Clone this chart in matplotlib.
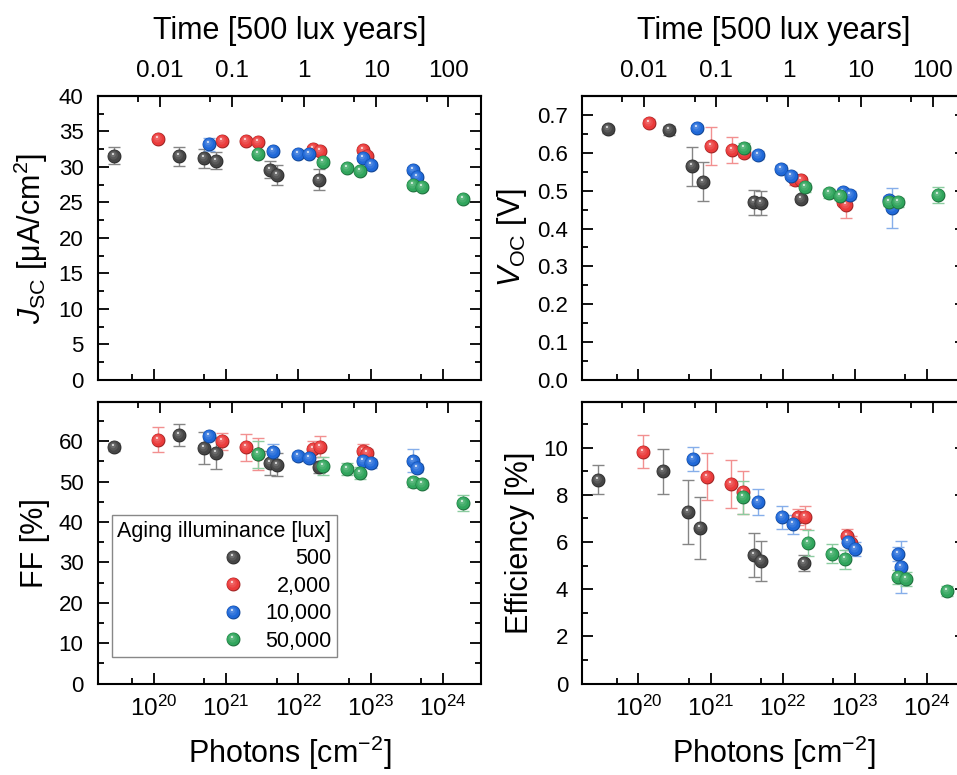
import numpy as np
import matplotlib
matplotlib.use('Agg')
import matplotlib.pyplot as plt
from matplotlib.path import Path
from matplotlib.markers import MarkerStyle
from matplotlib.ticker import MultipleLocator, FixedLocator, FixedFormatter, LogLocator, NullFormatter, FormatStrFormatter
from matplotlib.legend_handler import HandlerTuple
from matplotlib.lines import Line2D
from matplotlib.colors import to_rgb

plt.rcParams['font.family'] = ['Liberation Sans', 'DejaVu Sans']
plt.rcParams['mathtext.fontset'] = 'custom'
plt.rcParams['mathtext.rm'] = 'Liberation Sans'
plt.rcParams['mathtext.it'] = 'Liberation Sans:italic'
plt.rcParams['mathtext.bf'] = 'Liberation Sans:bold'

# ---------------- data ----------------
series_labels = ['500', '2,000', '10,000', '50,000']
legend_title = 'Aging illuminance [lux]'
colors = ['#454545', '#ea3a3a', '#1f68d8', '#30a55c']
err_colors = ['#858585', '#f29090', '#86aeea', '#8ccca0']

# photon dose [cm^-2] (x positions, Jsc / FF / Efficiency panels)
photons_500 = [2.8e19, 2.2e20, 4.9e20, 7.2e20, 4.0e21, 5.0e21, 1.95e22]
photons_2000 = [1.15e20, 8.9e20, 1.9e21, 2.8e21, 1.6e22, 2.0e22, 7.8e22, 8.9e22]
photons_10000 = [5.8e20, 4.5e21, 9.8e21, 1.4e22, 7.9e22, 1.0e23, 3.9e23, 4.4e23]
photons_50000 = [2.8e21, 2.2e22, 4.8e22, 7.2e22, 3.9e23, 5.1e23, 1.9e24]

# photon dose as plotted in the Voc panel
voc_photons_500 = [3.8e19, 2.7e20, 5.5e20, 7.9e20, 4.0e21, 5.0e21, 1.8e22]
voc_photons_2000 = [1.4e20, 1.0e21, 2.0e21, 2.95e21, 1.5e22, 1.8e22, 6.8e22, 7.6e22]
voc_photons_10000 = [6.5e20, 4.5e21, 9.3e21, 1.3e22, 6.8e22, 8.5e22, 3.0e23, 3.3e23]
voc_photons_50000 = [2.95e21, 2.0e22, 4.3e22, 6.2e22, 2.95e23, 3.9e23, 1.4e24]

# Jsc [uA/cm2]
jsc_500 = [31.6, 31.5, 31.2, 30.9, 29.6, 28.9, 28.2]
jsc_500_err = [1.2, 1.3, 1.4, 1.25, 1.2, 1.4, 1.5]
jsc_2000 = [34.0, 33.7, 33.7, 33.5, 32.6, 32.3, 32.4, 31.5]
jsc_2000_err = [0.3, 0.3, 0.3, 0.3, 0.3, 0.3, 0.3, 0.3]
jsc_10000 = [33.2, 32.2, 31.9, 31.9, 31.2, 30.3, 29.6, 28.6]
jsc_10000_err = [0.9, 0.4, 0.4, 0.4, 0.4, 0.4, 0.4, 0.4]
jsc_50000 = [31.9, 30.7, 29.8, 29.5, 27.5, 27.2, 25.5]
jsc_50000_err = [0.4, 0.4, 0.4, 0.4, 0.4, 0.4, 0.4]

# Voc [V]
voc_500 = [0.662, 0.659, 0.564, 0.524, 0.469, 0.467, 0.478]
voc_500_err = [0.010, 0.012, 0.051, 0.051, 0.033, 0.031, 0.008]
voc_2000 = [0.680, 0.618, 0.607, 0.600, 0.529, 0.527, 0.471, 0.461]
voc_2000_err = [0.008, 0.049, 0.035, 0.010, 0.015, 0.010, 0.010, 0.034]
voc_10000 = [0.666, 0.594, 0.558, 0.540, 0.496, 0.489, 0.476, 0.454]
voc_10000_err = [0.008, 0.010, 0.010, 0.010, 0.010, 0.010, 0.010, 0.053]
voc_50000 = [0.613, 0.509, 0.493, 0.487, 0.471, 0.469, 0.489]
voc_50000_err = [0.012, 0.012, 0.012, 0.012, 0.012, 0.012, 0.021]

# FF [%]
ff_500 = [58.5, 61.6, 58.3, 57.1, 54.6, 54.2, 53.7]
ff_500_err = [1.0, 2.8, 4.0, 4.0, 2.9, 2.9, 1.5]
ff_2000 = [60.4, 60.0, 58.5, 56.9, 58.1, 58.7, 57.7, 57.0]
ff_2000_err = [3.1, 2.1, 3.3, 3.9, 2.0, 2.6, 1.5, 1.2]
ff_10000 = [61.2, 57.4, 56.3, 55.8, 55.2, 54.5, 55.2, 53.4]
ff_10000_err = [1.0, 1.8, 1.0, 1.0, 1.0, 1.0, 2.9, 1.0]
ff_50000 = [56.8, 53.9, 53.1, 52.1, 49.8, 49.4, 44.7]
ff_50000_err = [3.3, 2.3, 1.5, 1.5, 1.2, 1.0, 1.9]

# Efficiency [%]
eff_500 = [8.65, 9.0, 7.28, 6.6, 5.44, 5.2, 5.12]
eff_500_err = [0.6, 0.95, 1.37, 1.32, 0.94, 0.85, 0.35]
eff_2000 = [9.83, 8.77, 8.46, 8.1, 7.07, 7.04, 6.25, 5.95]
eff_2000_err = [0.7, 1.0, 1.0, 0.9, 0.35, 0.5, 0.3, 0.3]
eff_10000 = [9.52, 7.68, 7.04, 6.76, 5.98, 5.7, 5.48, 4.95]
eff_10000_err = [0.5, 0.55, 0.5, 0.4, 0.3, 0.3, 0.3, 1.1]
eff_50000 = [7.89, 5.96, 5.51, 5.27, 4.52, 4.42, 3.93]
eff_50000_err = [0.7, 0.55, 0.4, 0.4, 0.3, 0.3, 0.2]

# axis ticks
photon_ticks = [1e20, 1e21, 1e22, 1e23, 1e24]
time_ticks = [0.01, 0.1, 1, 10, 100]
time_tick_labels = ['0.01', '0.1', '1', '10', '100']
time_minor_ticks = [0.005, 0.05, 0.5, 5, 50]
photons_per_500lux_year = 1.2e22

# ---------------- style helpers ----------------
MS = 10.0


def mix(c, other, f):
    c = np.array(to_rgb(c)); o = np.array(to_rgb(other))
    return tuple(c * (1 - f) + o * f)


def circle_marker(cx, cy, r):
    t = np.linspace(0, 2 * np.pi, 64)
    v = np.column_stack([cx + r * np.cos(t), cy + r * np.sin(t)])
    codes = [Path.MOVETO] + [Path.LINETO] * (len(t) - 2) + [Path.CLOSEPOLY]
    v = np.vstack([v, [[1.0, 1.0], [-1.0, -1.0]]])
    codes += [Path.MOVETO, Path.MOVETO]
    return MarkerStyle(Path(v, codes))


LAYER_GEOM = [(0.0, 0.0, 1.0, 'k', 0.32),
              (-0.05, 0.05, 0.9, None, 0.0),
              (-0.14, 0.17, 0.62, 'w', 0.10),
              (-0.2, 0.27, 0.38, 'w', 0.22),
              (-0.22, 0.36, 0.15, 'w', 0.85)]
LAYER_MARKERS = [circle_marker(cx, cy, r) for cx, cy, r, _, _ in LAYER_GEOM]


def layer_colors(color):
    out = []
    for _, _, _, other, f in LAYER_GEOM:
        out.append(to_rgb(color) if other is None else mix(color, other, f))
    return out


def draw_spheres(ax, xs, ys, color, z0):
    cols = layer_colors(color)
    for i, (xi, yi) in enumerate(zip(xs, ys)):
        for j, (mk, fc) in enumerate(zip(LAYER_MARKERS, cols)):
            ax.plot([xi], [yi], ls='none', marker=mk, ms=MS, mfc=fc, mec='none',
                    zorder=z0 + i * 0.01 + j * 0.001)


def sphere_handle(color):
    cols = layer_colors(color)
    return tuple(Line2D([], [], ls='none', marker=mk, ms=MS, mfc=fc, mec='none')
                 for mk, fc in zip(LAYER_MARKERS, cols))


# ---------------- figure ----------------
W, H = 957, 775
fig = plt.figure(figsize=(W / 100, H / 100), dpi=100)

axw = 383.5 / W
xl_left = 97.5 / W
xl_right = 582 / W
top_b, top_h = 1 - 380 / H, 284 / H
bot_b, bot_h = 1 - 683.5 / H, 281.8 / H

YTICK_FS = 16
XTICK_FS = 17.5
LEG_FS = 15.5
LABEL_FS = 22

panels = [
    dict(pos=[xl_left, top_b, axw, top_h], ylabel=r'$J_{\mathrm{SC}}$ [μA/cm$^{2}$]',
         ylim=(0, 40), major=5, minor=2.5, fmt='%d',
         xs=[photons_500, photons_2000, photons_10000, photons_50000],
         ys=[jsc_500, jsc_2000, jsc_10000, jsc_50000],
         es=[jsc_500_err, jsc_2000_err, jsc_10000_err, jsc_50000_err], top=True),
    dict(pos=[xl_right, top_b, axw, top_h], ylabel=r'$V_{\mathrm{OC}}$ [V]',
         ylim=(0, 0.75), major=0.1, minor=0.05, fmt='%.1f',
         xs=[voc_photons_500, voc_photons_2000, voc_photons_10000, voc_photons_50000],
         ys=[voc_500, voc_2000, voc_10000, voc_50000],
         es=[voc_500_err, voc_2000_err, voc_10000_err, voc_50000_err], top=True),
    dict(pos=[xl_left, bot_b, axw, bot_h], ylabel='FF [%]',
         ylim=(0, 69.8), major=10, minor=5, fmt='%d',
         xs=[photons_500, photons_2000, photons_10000, photons_50000],
         ys=[ff_500, ff_2000, ff_10000, ff_50000],
         es=[ff_500_err, ff_2000_err, ff_10000_err, ff_50000_err], top=False),
    dict(pos=[xl_right, bot_b, axw, bot_h], ylabel='Efficiency [%]',
         ylim=(0, 11.95), major=2, minor=1, fmt='%d',
         xs=[photons_500, photons_2000, photons_10000, photons_50000],
         ys=[eff_500, eff_2000, eff_10000, eff_50000],
         es=[eff_500_err, eff_2000_err, eff_10000_err, eff_50000_err], top=False),
]

axes = []
for p in panels:
    ax = fig.add_axes(p['pos'])
    axes.append(ax)
    ax.set_xscale('log')
    ax.set_xlim(10 ** 19.22, 10 ** 24.53)
    ax.set_ylim(*p['ylim'])
    ax.yaxis.set_major_locator(MultipleLocator(p['major']))
    ax.yaxis.set_minor_locator(MultipleLocator(p['minor']))
    ax.yaxis.set_major_formatter(FormatStrFormatter(p['fmt']))
    ax.xaxis.set_major_locator(FixedLocator(photon_ticks))
    ax.xaxis.set_minor_locator(LogLocator(base=10, subs=(5.0,), numticks=20))
    ax.xaxis.set_minor_formatter(NullFormatter())
    for s in ax.spines.values():
        s.set_linewidth(1.5)
    ax.tick_params(which='both', direction='in', top=False, right=True, width=1.3)
    ax.tick_params(axis='y', labelsize=YTICK_FS, pad=10)
    ax.tick_params(axis='x', labelsize=XTICK_FS, pad=9)
    ax.tick_params(which='major', length=8)
    ax.tick_params(which='minor', length=4.5)
    if p['top']:
        ax.tick_params(axis='x', labelbottom=False)
    else:
        ax.set_xlabel(r'Photons [cm$^{-2}$]', fontsize=LABEL_FS, labelpad=9)
    ax.set_ylabel(p['ylabel'], fontsize=LABEL_FS, labelpad=6)

    sec = ax.secondary_xaxis('top', functions=(lambda v: v / photons_per_500lux_year,
                                               lambda v: v * photons_per_500lux_year))
    sec.xaxis.set_major_locator(FixedLocator(time_ticks))
    sec.xaxis.set_major_formatter(FixedFormatter(time_tick_labels))
    sec.xaxis.set_minor_locator(FixedLocator(time_minor_ticks))
    sec.xaxis.set_minor_formatter(NullFormatter())
    sec.spines['top'].set_linewidth(1.5)
    sec.tick_params(which='both', direction='in', width=1.3, labelsize=XTICK_FS, pad=10)
    sec.tick_params(which='major', length=8)
    sec.tick_params(which='minor', length=4.5)
    if p['top']:
        sec.set_xlabel('Time [500 lux years]', fontsize=LABEL_FS, labelpad=15)
    else:
        sec.tick_params(labeltop=False)

    for k in range(4):
        ax.errorbar(p['xs'][k], p['ys'][k], yerr=p['es'][k], fmt='none',
                    ecolor=err_colors[k], elinewidth=1.0, capsize=4.5, capthick=1.0,
                    zorder=2)
    for k in range(4):
        draw_spheres(ax, p['xs'][k], p['ys'][k], colors[k], 3 + k * 0.2)

# legend in FF panel
ax_ff = axes[2]
handles = [sphere_handle(c) for c in colors]
leg = ax_ff.legend(handles, series_labels, title=legend_title,
                   handler_map={tuple: HandlerTuple(ndivide=1, pad=0)},
                   loc='lower left', bbox_to_anchor=(0.038, 0.094), borderaxespad=0,
                   fontsize=LEG_FS, title_fontsize=LEG_FS, frameon=True, fancybox=False,
                   edgecolor='#888888', framealpha=1, borderpad=0.25, labelspacing=0.3,
                   handlelength=1.0, handletextpad=1.0, alignment='right')
leg.get_frame().set_linewidth(1.0)
leg.set_zorder(10)

fig.canvas.draw()
r = fig.canvas.get_renderer()
texts = leg.get_texts()
widths = [t.get_window_extent(r).width for t in texts]
mw = max(widths)
for t, w in zip(texts, widths):
    t.set_position((mw - w, 0))

fig.savefig('out.png', dpi=100)
